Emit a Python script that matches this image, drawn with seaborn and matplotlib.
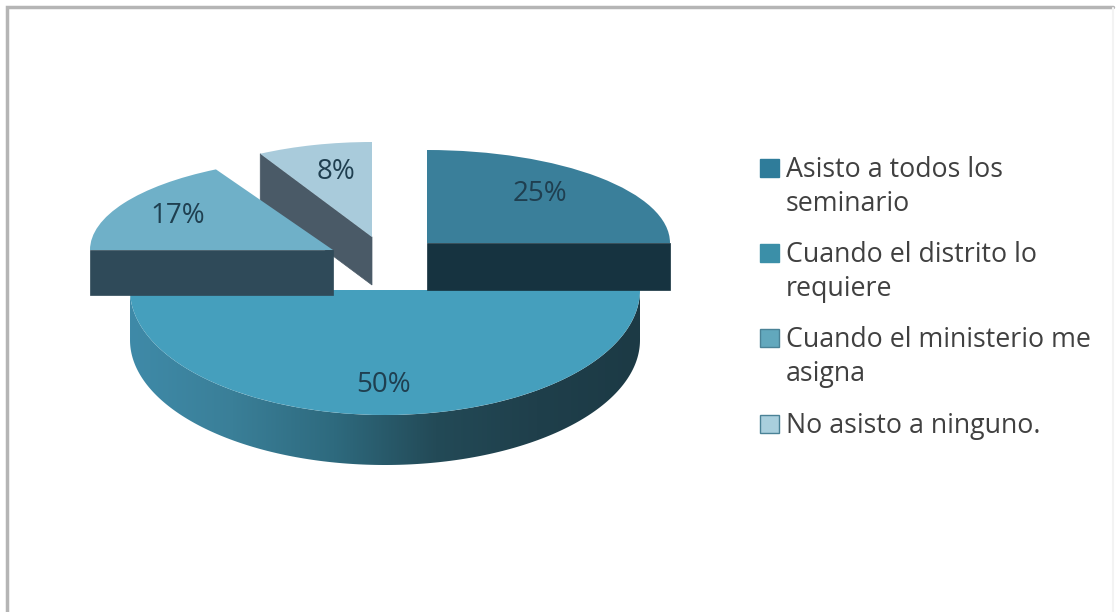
import numpy as np
import matplotlib
matplotlib.use("Agg")
import matplotlib.pyplot as plt
from matplotlib.colors import LinearSegmentedColormap
from matplotlib.patches import Polygon, Rectangle
from matplotlib.transforms import Affine2D
import seaborn as sns

# chart data
labels = ["Asisto a todos los\nseminario", "Cuando el distrito lo\nrequiere",
          "Cuando el ministerio me\nasigna", "No asisto a ninguno."]
values = [25, 50, 17, 8]
pct_labels = ["25%", "50%", "17%", "8%"]

# colours
top_colors = ["#3a7f9a", "#459fbd", "#6fb0c8", "#a9cbdb"]
side_colors = ["#163340", "#245060", "#2f4a59", "#4a5a67"]
legend_colors = ["#2f7c9a", "#3b8fa8", "#62a8bd", "#a9cfdd"]
legend_edges = ["#2f7c9a", "#3b8fa8", "#4a8296", "#4a8296"]
rim_colors = ["#3f8aa8", "#3a7f98", "#2e6a7e", "#234a57", "#1f3f4b", "#1c3a45"]

# layout in pixels (each exploded slice has its own perspective)
centers = [(427, 243), (385, 290), (333, 250), (372, 237)]
radii = [(243, 93), (255, 125), (243, 92), (232, 95)]
depths = [47, 50, 45, 48]
cut_sides = ["theta1", None, "theta2", "theta2"]
label_pos = [(540, 194), (383, 385), (178, 216), (336, 172)]
legend_y = [168, 253, 338, 424]

sns.set_style("white")
plt.rcParams["font.family"] = ["Open Sans", "DejaVu Sans"]

fig, ax = plt.subplots(figsize=(11.19, 6.12), dpi=100)
fig.subplots_adjust(0, 0, 1, 1)

wedges, _ = ax.pie(values, colors=top_colors, startangle=90, counterclock=False)
ax.set_aspect("auto")
ax.set_xlim(0, 1119)
ax.set_ylim(612, 0)
ax.axis("off")


def ellipse_point(center, radius, theta):
    t = np.radians(theta)
    return center[0] + radius[0] * np.cos(t), center[1] - radius[1] * np.sin(t)


def cut_face(center, radius, theta, depth, color, z):
    x, y = ellipse_point(center, radius, theta)
    pts = [(center[0], center[1]), (x, y), (x, y + depth), (center[0], center[1] + depth)]
    ax.add_patch(Polygon(pts, closed=True, facecolor=color, edgecolor=color, lw=0.5, zorder=z))


# order back to front: 50% first, then the pulled out slices
for i in [1, 3, 2, 0]:
    w = wedges[i]
    z = {1: 2, 3: 3, 2: 4, 0: 5}[i]
    c, r, d = centers[i], radii[i], depths[i]
    if i == 1:
        thetas = np.linspace(w.theta1, w.theta2, 200)
        xs, ys = ellipse_point(c, r, thetas)
        pts = np.vstack([np.column_stack([xs, ys]), np.column_stack([xs, ys + d])[::-1]])
        rim = Polygon(pts, closed=True, transform=ax.transData, facecolor="none", edgecolor="none")
        ax.add_patch(rim)
        cmap = LinearSegmentedColormap.from_list("rim", rim_colors)
        img = ax.imshow(np.linspace(0, 1, 256)[None, :], cmap=cmap, aspect="auto", zorder=z,
                        extent=(c[0] - r[0], c[0] + r[0], c[1] + r[1] + d, c[1]))
        img.set_clip_path(rim)
    else:
        cut_face(c, r, getattr(w, cut_sides[i]), d, side_colors[i], z)
    w.set_transform(Affine2D().scale(r[0], -r[1]).translate(c[0], c[1]) + ax.transData)
    w.set_zorder(z + 0.5)
    w.set_edgecolor("none")

# imshow resets the limits
ax.set_xlim(0, 1119)
ax.set_ylim(612, 0)

for (x, y), s in zip(label_pos, pct_labels):
    ax.text(x, y, s, ha="center", va="center", fontsize=20, color="#1f3f50", zorder=10)

# legend
for y, lab, fc, ec in zip(legend_y, labels, legend_colors, legend_edges):
    ax.add_patch(Rectangle((760, y - 9), 19, 18, facecolor=fc, edgecolor=ec, lw=1, zorder=10))
    ax.text(786, y - 12, lab, ha="left", va="top", fontsize=19.3, color="#404040",
            linespacing=1.27, zorder=10)

# slide border
ax.plot([7, 7, 1113], [612, 7, 7], color="#b5b5b5", lw=2.5, zorder=1, solid_joinstyle="miter")
ax.plot([1113, 1113], [8, 612], color="#f3f3f3", lw=1.5, zorder=1)

fig.savefig("out.png", dpi=100)
